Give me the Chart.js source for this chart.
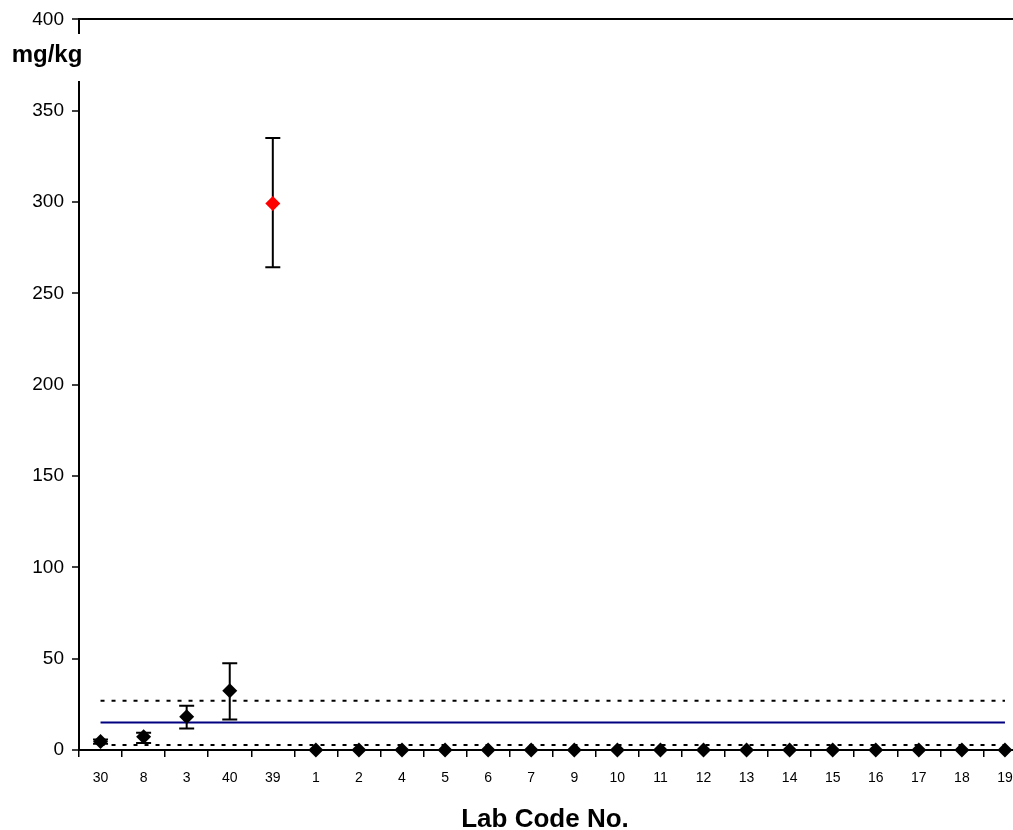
<!DOCTYPE html>
<html>
<head>
<meta charset="utf-8">
<script src="https://cdn.jsdelivr.net/npm/chart.js@4"></script>
<style>
    html, body { margin: 0; padding: 0; background: #fff; overflow: hidden; }
    #wrap { width: 1034px; height: 830px; }
</style>
</head>
<body>
<div id="wrap"><canvas id="labChart" width="1034" height="830"></canvas></div>
<script>
const labCodes = ['30', '8', '3', '40', '39', '1', '2', '4', '5', '6', '7', '9', '10', '11', '12', '13', '14', '15', '16', '17', '18', '19'];
const results = [4.6, 7.3, 18.2, 32.4, 299.2, 0, 0, 0, 0, 0, 0, 0, 0, 0, 0, 0, 0, 0, 0, 0, 0, 0];
const errLow = [3.4, 3.8, 11.8, 16.7, 264.3, null, null, null, null, null, null, null, null, null, null, null, null, null, null, null, null, null];
const errHigh = [5.8, 9.4, 24.2, 47.5, 335.1, null, null, null, null, null, null, null, null, null, null, null, null, null, null, null, null, null];
const assignedValue = 15;
const upperLimit = 27;
const lowerLimit = 2.7;
const yTicks = [0, 50, 100, 150, 200, 250, 300, 350, 400];
const outlierLab = '39';

const FONT = 'Arial, "Liberation Sans", sans-serif';

const errorBars = {
    id: 'errorBars',
    beforeDatasetsDraw(chart) {
        const ctx = chart.ctx;
        const x = chart.scales.x;
        const y = chart.scales.y;
        ctx.save();
        ctx.strokeStyle = '#000';
        ctx.lineWidth = 2;
        labCodes.forEach((code, i) => {
            if (errLow[i] == null) return;
            const px = x.getPixelForValue(i);
            const lo = y.getPixelForValue(errLow[i]);
            const hi = y.getPixelForValue(errHigh[i]);
            ctx.beginPath();
            ctx.moveTo(px, lo);
            ctx.lineTo(px, hi);
            ctx.moveTo(px - 7.5, lo);
            ctx.lineTo(px + 7.5, lo);
            ctx.moveTo(px - 7.5, hi);
            ctx.lineTo(px + 7.5, hi);
            ctx.stroke();
        });
        ctx.restore();
    }
};

const extraText = {
    id: 'extraText',
    afterDraw(chart) {
        const ctx = chart.ctx;
        ctx.save();
        ctx.fillStyle = '#fff';
        ctx.fillRect(6, 34, 82, 47);
        ctx.fillStyle = '#000';
        ctx.textAlign = 'center';
        ctx.textBaseline = 'alphabetic';
        ctx.font = 'bold 24px ' + FONT;
        ctx.fillText('mg/kg', 47, 62);
        ctx.font = 'bold 26px ' + FONT;
        ctx.fillText('Lab Code No.', 545, 827);
        ctx.restore();
    }
};

const flatLine = (v) => labCodes.map(() => v);

new Chart(document.getElementById('labChart'), {
    type: 'line',
    data: {
        labels: labCodes,
        datasets: [{
            label: 'Result',
            data: results,
            showLine: false,
            pointStyle: 'rectRot',
            pointRadius: 7.5,
            pointBorderWidth: 0,
            pointBackgroundColor: (c) => labCodes[c.dataIndex] === outlierLab ? '#ff0000' : '#000',
            pointBorderColor: (c) => labCodes[c.dataIndex] === outlierLab ? '#ff0000' : '#000',
            clip: false
        }, {
            label: 'Assigned value',
            data: flatLine(assignedValue),
            borderColor: '#000080',
            borderWidth: 2,
            pointRadius: 0
        }, {
            label: 'Upper limit',
            data: flatLine(upperLimit),
            borderColor: '#000',
            borderWidth: 2,
            borderDash: [4, 7],
            pointRadius: 0
        }, {
            label: 'Lower limit',
            data: flatLine(lowerLimit),
            borderColor: '#000',
            borderWidth: 2,
            borderDash: [4, 7],
            pointRadius: 0
        }]
    },
    options: {
        responsive: false,
        animation: false,
        devicePixelRatio: 1,
        layout: { padding: { top: 17, left: 0, right: 3, bottom: 0 } },
        plugins: {
            legend: { display: false },
            tooltip: { enabled: false }
        },
        scales: {
            x: {
                type: 'category',
                offset: true,
                afterFit: (s) => { s.height = 80; },
                grid: {
                    offset: true,
                    drawOnChartArea: false,
                    color: '#000',
                    tickLength: 7,
                    lineWidth: 1.5
                },
                border: { color: '#000', width: 2 },
                ticks: {
                    color: '#000',
                    font: { family: FONT, size: 14 },
                    padding: 13,
                    maxRotation: 0,
                    autoSkip: false
                }
            },
            y: {
                min: yTicks[0],
                max: yTicks[yTicks.length - 1],
                afterFit: (s) => { s.width = 79; },
                afterBuildTicks: (s) => { s.ticks = yTicks.map(v => ({ value: v })); },
                grid: {
                    color: (c) => c.tick && c.tick.value === 400 ? '#000' : 'rgba(0,0,0,0)',
                    lineWidth: 2,
                    tickColor: '#000',
                    tickWidth: 1.5,
                    tickLength: 7
                },
                border: { color: '#000', width: 2 },
                ticks: {
                    color: '#000',
                    font: { family: FONT, size: 19 },
                    padding: 8
                }
            }
        }
    },
    plugins: [errorBars, extraText]
});
</script>
</body>
</html>
